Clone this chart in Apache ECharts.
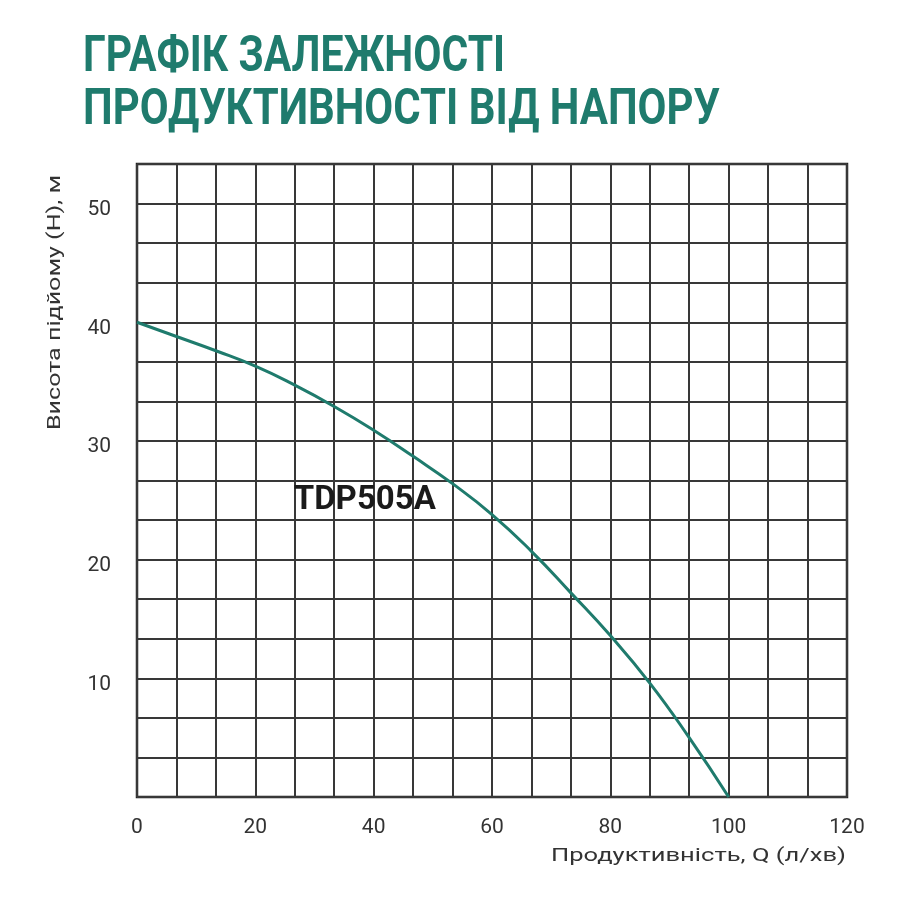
<!DOCTYPE html>
<html>
<head>
<meta charset="utf-8">
<script src="https://cdn.jsdelivr.net/npm/echarts@6/dist/echarts.min.js"></script>
<style>html,body{margin:0;padding:0;background:#fff}#c{width:900px;height:900px}</style>
</head>
<body>
<div id="c"></div>
<script>
// ---- data ----
const titleLines = ['ГРАФІК ЗАЛЕЖНОСТІ', 'ПРОДУКТИВНОСТІ ВІД НАПОРУ'];
const xName = 'Продуктивність, Q (л/хв)';
const yName = 'Висота підйому (Н), м';
const seriesName = 'TDP505A';
const flowQ = [0, 6.67, 13.33, 20, 26.67, 33.33, 40, 46.67, 53.33, 60, 66.67, 73.33, 80, 86.67, 93.33, 100];
const headH = [40, 38.8, 37.6, 36.3, 34.7, 32.9, 30.9, 28.7, 26.4, 23.8, 20.7, 17.2, 13.6, 9.6, 5.0, 0];
const xTicks = [0, 20, 40, 60, 80, 100, 120];
const yTicks = [10, 20, 30, 40, 50];
const labelPos = [38.5, 25];

const teal = '#1f7b6d';
const chart = echarts.init(document.getElementById('c'));

function fitScale(text, font, target) {
  const ctx = document.createElement('canvas').getContext('2d');
  ctx.font = font;
  return target / ctx.measureText(text).width;
}
const tFont = 'bold 50px Roboto';
const s1 = fitScale(titleLines[0], tFont, 422);
const s2 = fitScale(titleLines[1], tFont, 637);
const axFont = '19px Roboto';
const sx = fitScale(xName, axFont, 295);
const sy = fitScale(yName, axFont, 255);

function tickFmt(list, rich) {
  return function (v) {
    const r = Math.round(v);
    if (Math.abs(v - r) < 0.01 && list.indexOf(r) >= 0) return rich ? '{a|' + r + '}' : String(r);
    return '';
  };
}

chart.setOption({
  animation: false,
  backgroundColor: '#fff',
  grid: { left: 137, right: 53, top: 164, bottom: 103, show: true, borderColor: '#222', borderWidth: 2.5 },
  xAxis: {
    type: 'value', min: 0, max: 120, interval: 20 / 3,
    axisLine: { show: false }, axisTick: { show: false },
    splitLine: { show: true, lineStyle: { color: '#383838', width: 2 } },
    axisLabel: { formatter: tickFmt(xTicks, false), color: '#333', fontFamily: 'Roboto', fontSize: 21, margin: 20 }
  },
  yAxis: {
    type: 'value', min: 0, max: 160 / 3, interval: 10 / 3,
    axisLine: { show: false }, axisTick: { show: false },
    splitLine: { show: true, lineStyle: { color: '#383838', width: 2 } },
    axisLabel: {
      formatter: tickFmt(yTicks, true), margin: 26,
      rich: { a: { color: '#333', fontFamily: 'Roboto', fontSize: 21, padding: [12, 0, 0, 0] } }
    }
  },
  graphic: [
    { type: 'text', x: 83, y: 58, scaleX: s1, style: { text: titleLines[0], font: tFont, fill: teal, align: 'left', verticalAlign: 'middle' } },
    { type: 'text', x: 83, y: 111, scaleX: s2, style: { text: titleLines[1], font: tFont, fill: teal, align: 'left', verticalAlign: 'middle' } },
    { type: 'text', x: 846, y: 856, scaleX: sx, style: { text: xName, font: axFont, fill: '#333', align: 'right', verticalAlign: 'middle' } },
    { type: 'text', x: 55, y: 430, rotation: Math.PI / 2, scaleX: sy, style: { text: yName, font: axFont, fill: '#333', align: 'left', verticalAlign: 'middle' } }
  ],
  series: [{
    type: 'line', name: seriesName,
    data: flowQ.map((q, i) => [q, headH[i]]),
    smooth: 0.5, showSymbol: false, symbol: 'none',
    lineStyle: { color: teal, width: 3 },
    markPoint: {
      symbol: 'circle', symbolSize: 0,
      data: [{ coord: labelPos, value: seriesName }],
      label: { show: true, position: 'inside', formatter: seriesName, color: '#1a1a1a', fontFamily: 'Roboto', fontWeight: 'bold', fontSize: 33 }
    }
  }]
});
</script>
</body>
</html>
